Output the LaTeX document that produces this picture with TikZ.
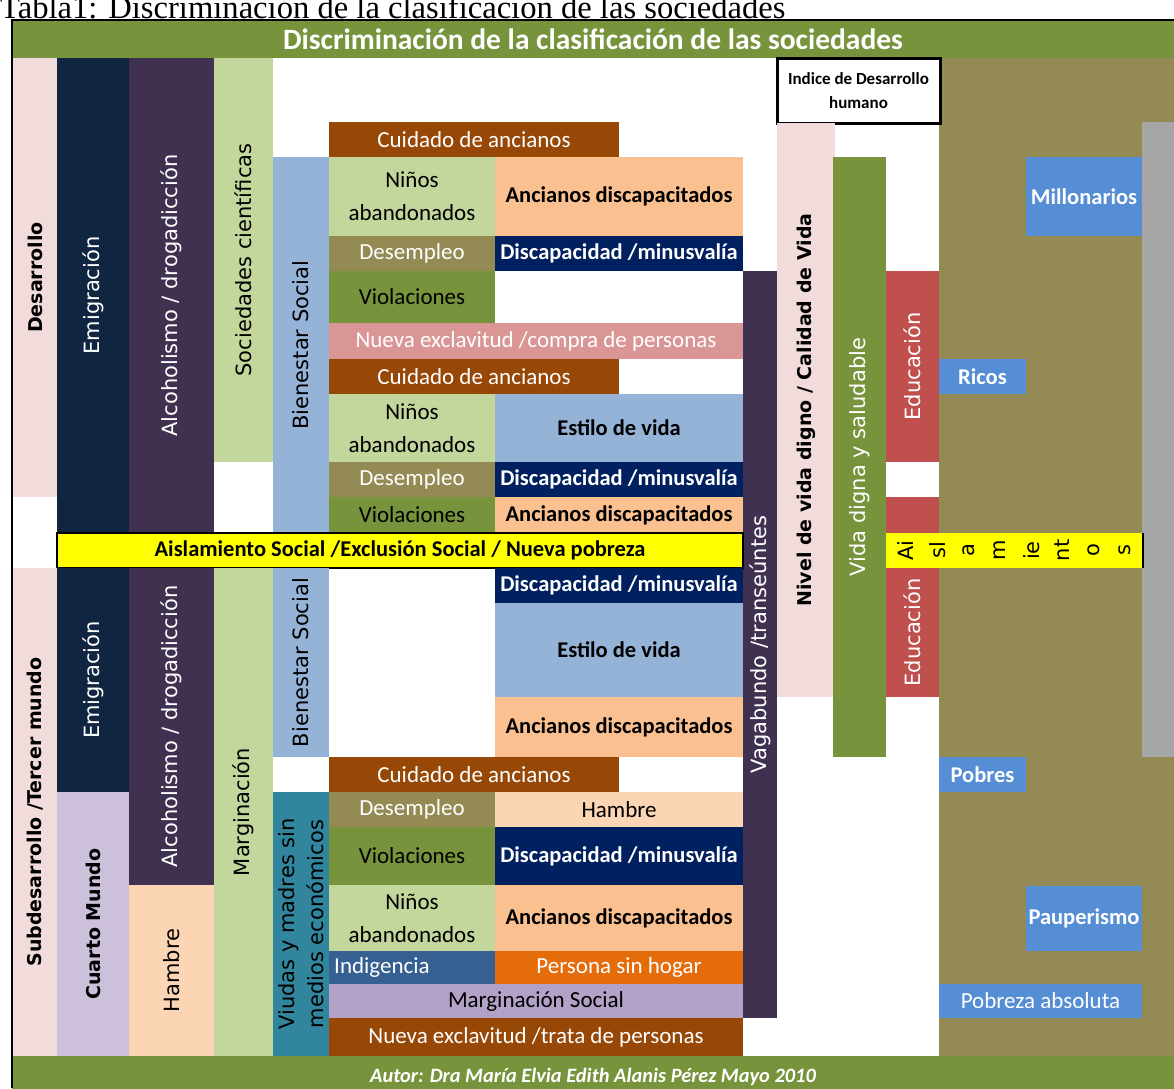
\documentclass[tikz,border=0pt]{standalone}
\usepackage{fontspec}
\setmainfont{Carlito}
\newfontfamily\vfuente{DejaVu Sans}
\newfontfamily\tfuente{Liberation Serif}
\usetikzlibrary{positioning}

\definecolor{verdeOliva}{HTML}{77933C}
\definecolor{rosaClaro}{HTML}{F2DCDB}
\definecolor{azulNoche}{HTML}{10253F}
\definecolor{morado}{HTML}{403151}
\definecolor{verdeClaro}{HTML}{C3D69B}
\definecolor{azulClaro}{HTML}{95B3D7}
\definecolor{cafe}{HTML}{974806}
\definecolor{durazno}{HTML}{FAC090}
\definecolor{caqui}{HTML}{948A54}
\definecolor{azulMarino}{HTML}{002060}
\definecolor{rosaViejo}{HTML}{DA9694}
\definecolor{rojo}{HTML}{C0504D}
\definecolor{azulVivo}{HTML}{558ED5}
\definecolor{gris}{HTML}{A6A6A6}
\definecolor{lavanda}{HTML}{CCC0DA}
\definecolor{melocoton}{HTML}{FCD5B4}
\definecolor{petroleo}{HTML}{31859C}
\definecolor{azulAcero}{HTML}{376092}
\definecolor{lila}{HTML}{B3A2C7}
\definecolor{naranja}{HTML}{E46C0A}
\definecolor{amarillo}{HTML}{FFFF00}

\begin{document}
\begin{tikzpicture}[%
    x=1pt,
    y=-1pt,
    caja/.style n args={4}{%
      inner sep=0pt,
      outer sep=0pt,
      minimum width={(#3-#1)*1pt},
      minimum height={(#4-#2)*1pt},
      at={({(#1+#3)/2},{(#2+#4)/2})}
    },
    vcaja/.style n args={4}{%
      inner sep=0pt,
      outer sep=0pt,
      rotate=90,
      minimum width={(#4-#2)*1pt},
      minimum height={(#3-#1)*1pt},
      at={({(#1+#3)/2},{(#2+#4)/2})}
    },
    txt/.style={font=\fontsize{23}{33}\selectfont, align=center},
    txtb/.style={font=\bfseries\fontsize{22.5}{27}\selectfont},
    rot/.style={font=\vfuente\fontsize{21}{29}\selectfont, align=center},
    rotb/.style={font=\vfuente\bfseries\fontsize{19}{23}\selectfont},
    blanco/.style={text=white}
  ]
    \useasboundingbox (0,0) rectangle (1174,1088);

    \node[anchor=base west, inner sep=0pt, font=\tfuente\fontsize{32.6}{36}\selectfont] (tabla) at (0,18) {Tabla1: Discriminación de la clasificación de las sociedades};

    \node[caja={939}{58}{1174}{1056}, fill=caqui]  (fondo) {};
    \node[caja={1142}{122}{1174}{757}, fill=gris] (gris)  {};

    \node[caja={12}{21}{1174}{58}, fill=verdeOliva, blanco, font=\bfseries\fontsize{29.5}{32}\selectfont] (titulo) {Discriminación de la clasificación de las sociedades};
    \node[caja={12}{1056}{1174}{1098}, fill=verdeOliva, blanco, font=\bfseries\itshape\fontsize{20.4}{24}\selectfont] (autor) {Autor: Dra María Elvia Edith Alanis Pérez Mayo 2010};

    \node[vcaja={13}{58}{57}{497},   fill=rosaClaro, rotb]          (desarrollo) {Desarrollo};
    \node[vcaja={57}{58}{129}{533},  fill=azulNoche, rot, blanco]   (emig1)      {Emigración};
    \node[vcaja={129}{58}{214}{533}, fill=morado, rot, blanco]      (alcoh1)     {Alcoholismo / drogadicción};
    \node[vcaja={214}{58}{273}{462}, fill=verdeClaro, rot]          (ciencia)    {Sociedades científicas};
    \node[vcaja={273}{157}{329}{533}, fill=azulClaro, rot]          (bien1)      {Bienestar Social};

    \node[caja={329}{122}{619}{157}, fill=cafe, txt, blanco]        (cuid1)   {Cuidado de ancianos};
    \node[caja={329}{157}{495}{236}, fill=verdeClaro, txt]          (ninos1)  {Niños\\abandonados};
    \node[caja={495}{157}{743}{236}, fill=durazno, txtb]            (anc1)    {Ancianos discapacitados};
    \node[caja={329}{236}{495}{271}, fill=caqui, txt, blanco]       (desem1)  {Desempleo};
    \node[caja={495}{236}{743}{271}, fill=azulMarino, txtb, blanco] (disc1)   {Discapacidad /minusvalía};
    \node[caja={329}{271}{495}{323}, fill=verdeOliva, txt]          (viol1)   {Violaciones};
    \node[caja={329}{323}{743}{359}, fill=rosaViejo, txt, blanco]   (compra)  {Nueva exclavitud /compra de personas};
    \node[caja={329}{359}{619}{394}, fill=cafe, txt, blanco]        (cuid2)   {Cuidado de ancianos};
    \node[caja={329}{394}{495}{462}, fill=verdeClaro, txt]          (ninos2)  {Niños\\abandonados};
    \node[caja={495}{394}{743}{462}, fill=azulClaro, txtb]          (estilo1) {Estilo de vida};
    \node[caja={329}{462}{495}{497}, fill=caqui, txt, blanco]       (desem2)  {Desempleo};
    \node[caja={495}{462}{743}{497}, fill=azulMarino, txtb, blanco] (disc2)   {Discapacidad /minusvalía};
    \node[caja={329}{497}{495}{533}, fill=verdeOliva, txt]          (viol2)   {Violaciones};
    \node[caja={495}{497}{743}{533}, fill=durazno, txtb]            (anc2)    {Ancianos discapacitados};

    \node[caja={777}{58}{940}{123}, fill=white, draw=black, line width=3pt, align=center, font=\bfseries\fontsize{17}{24}\selectfont] (indice) {Indice de Desarrollo\\humano};
    \node[vcaja={743}{271}{777}{1018}, fill=morado, rot, blanco]   (vaga)  {Vagabundo /transeúntes};
    \node[vcaja={777}{123}{835}{697}, fill=rosaClaro, rotb]         (nivel) {Nivel de vida digno / Calidad de Vida};
    \node[vcaja={833}{157}{886}{757}, fill=verdeOliva, rot, blanco] (vida)  {Vida digna y saludable};
    \node[vcaja={886}{271}{939}{462}, fill=rojo, rot, blanco]       (educ1) {Educación};
    \node[caja={886}{497}{939}{533}, fill=rojo]                     (educm) {};
    \node[vcaja={886}{568}{939}{697}, fill=rojo, rot, blanco]       (educ2) {Educación};

    \node[caja={1026}{157}{1142}{236}, fill=azulVivo, txtb, blanco] (millon) {Millonarios};
    \node[caja={939}{359}{1026}{394}, fill=azulVivo, txtb, blanco]  (ricos)  {Ricos};
    \node[caja={939}{757}{1026}{792}, fill=azulVivo, txtb, blanco]  (pobres) {Pobres};
    \node[caja={1026}{886}{1142}{951}, fill=azulVivo, txtb, blanco] (pauper) {Pauperismo};
    \node[caja={939}{984}{1142}{1018}, fill=azulVivo, txt, blanco]  (pobabs) {Pobreza absoluta};

    \node[caja={57}{533}{743}{568}, fill=amarillo, draw=black, line width=2pt, txtb] (aisl) {Aislamiento Social /Exclusión Social / Nueva pobreza};
    \node[caja={886}{533}{1143}{568}, fill=amarillo] (aisr) {};
    \draw[line width=2pt] (aisr.north east) -- (aisr.south east);
    \foreach \s [count=\i] in {Ai,sl,a,m,ie,nt,o,s}
      \node[rot, rotate=90, inner sep=0pt] (ais\i) at ({906+(\i-1)*31.3},550.5) {\s};

    \node[vcaja={13}{568}{57}{1056},  fill=rosaClaro, rotb]         (subdes) {Subdesarrollo /Tercer mundo};
    \node[vcaja={57}{568}{129}{792}, fill=azulNoche, rot, blanco]   (emig2)  {Emigración};
    \node[vcaja={57}{792}{129}{1056}, fill=lavanda, rotb]           (cuarto) {Cuarto Mundo};
    \node[vcaja={129}{568}{214}{885}, fill=morado, rot, blanco]     (alcoh2) {Alcoholismo / drogadicción};
    \node[vcaja={129}{885}{214}{1056}, fill=melocoton, rot]         (hambre1) {Hambre};
    \node[vcaja={214}{568}{273}{1056}, fill=verdeClaro, rot]        (margin) {Marginación};
    \node[vcaja={273}{568}{329}{757}, fill=azulClaro, rot]          (bien2)  {Bienestar Social};
    \node[vcaja={273}{792}{329}{1056}, fill=petroleo, rot]          (viudas) {Viudas y madres sin\\medios económicos};

    \node[caja={495}{568}{743}{603}, fill=azulMarino, txtb, blanco] (disc3)   {Discapacidad /minusvalía};
    \node[caja={495}{603}{743}{697}, fill=azulClaro, txtb]          (estilo2) {Estilo de vida};
    \node[caja={495}{697}{743}{757}, fill=durazno, txtb]            (anc3)    {Ancianos discapacitados};
    \node[caja={329}{757}{619}{792}, fill=cafe, txt, blanco]        (cuid3)   {Cuidado de ancianos};
    \node[caja={329}{792}{495}{827}, fill=caqui, txt, blanco]       (desem3)  {Desempleo};
    \node[caja={495}{792}{743}{827}, fill=melocoton, txt]           (hambre2) {Hambre};
    \node[caja={329}{827}{495}{885}, fill=verdeOliva, txt]          (viol3)   {Violaciones};
    \node[caja={495}{827}{743}{885}, fill=azulMarino, txtb, blanco] (disc4)   {Discapacidad /minusvalía};
    \node[caja={329}{885}{495}{951}, fill=verdeClaro, txt]          (ninos3)  {Niños\\abandonados};
    \node[caja={495}{885}{743}{951}, fill=durazno, txtb]            (anc4)    {Ancianos discapacitados};
    \node[caja={329}{951}{495}{984}, fill=azulAcero]                (indig)   {};
    \node[txt, blanco, inner sep=0pt, right=5pt of indig.west]      (indigt)  {Indigencia};
    \node[caja={495}{951}{743}{984}, fill=naranja, txt, blanco]     (persona) {Persona sin hogar};
    \node[caja={329}{984}{743}{1018}, fill=lila, txt]               (margsoc) {Marginación Social};
    \node[caja={329}{1018}{743}{1056}, fill=cafe, txt, blanco]      (trata)   {Nueva exclavitud /trata de personas};

    \draw[line width=2pt] (12,1088) -- (12,20) -- (1174,20);
  \end{tikzpicture}
\end{document}
